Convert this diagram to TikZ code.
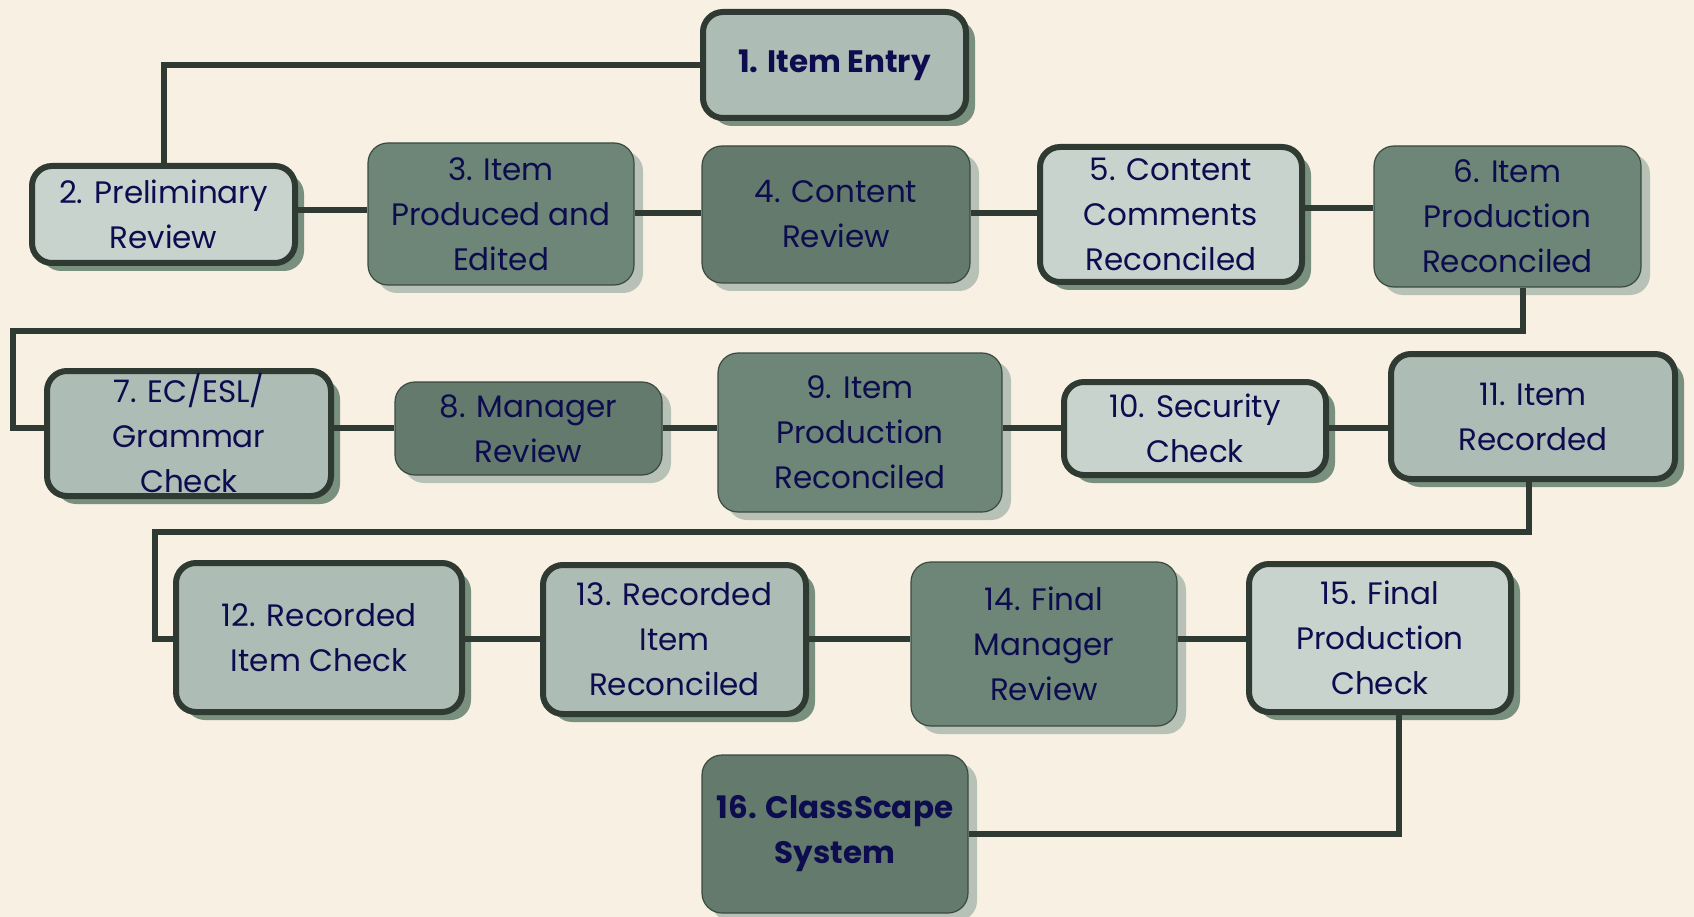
\documentclass[tikz,border=0pt]{standalone}
\usepackage{fontspec}
\setmainfont{Poppins}
\usetikzlibrary{shadows}
\definecolor{bg}{HTML}{F8F0E3}
\definecolor{edge}{HTML}{2F3A33}
\definecolor{thinedge}{HTML}{3A4A40}
\definecolor{txt}{HTML}{0C0C4E}
\definecolor{flight}{HTML}{C8D3CD}
\definecolor{flmid}{HTML}{ADBCB4}
\definecolor{fmed}{HTML}{6D8677}
\definecolor{fdark}{HTML}{637A6C}
\definecolor{shA}{HTML}{79907F}
\definecolor{shB}{HTML}{B7C1B6}
\begin{document}
\begin{tikzpicture}[x=1pt,y=-1pt,
  box/.style={rounded corners=20pt, align=center, inner sep=0pt, text=txt,
    font=\fontsize{31}{45}\selectfont},
  thickbox/.style={box, draw=edge, line width=6pt,
    drop shadow={shadow xshift=9pt, shadow yshift=-8pt, fill=shA, opacity=1}},
  thinbox/.style={box, draw=thinedge, line width=1.2pt,
    drop shadow={shadow xshift=9pt, shadow yshift=-8pt, fill=shB, opacity=1}},
  sz/.style 2 args={minimum width=#1pt, minimum height=#2pt},
  boldtxt/.style={font=\fontsize{31}{45}\selectfont\bfseries},
  link/.style={draw=edge, line width=6pt}]
\fill[bg] (0,0) rectangle (1694,917);
\useasboundingbox (0,0) rectangle (1694,917);

\node[thickbox, fill=flmid, sz={263}{106}, boldtxt] (n1) at (834.5,65) {1. Item Entry};
\node[thickbox, fill=flight, sz={263}{97}] (n2) at (163.5,214.5) {2. Preliminary\\Review};
\node[thinbox, fill=fmed, sz={266}{142}] (n3) at (501,214) {3. Item\\Produced and\\Edited};
\node[thinbox, fill=fdark, sz={268}{137}] (n4) at (836,214.5) {4. Content\\Review};
\node[thickbox, fill=flight, sz={262}{135}] (n5) at (1171,214.5) {5. Content\\Comments\\Reconciled};
\node[thinbox, fill=fmed, sz={267}{141}] (n6) at (1507.5,216.5) {6. Item\\Production\\Reconciled};

\node[thickbox, fill=flmid, sz={284}{125}] (n7) at (189,433.5) {7. EC/ESL/\\Grammar\\Check};
\node[thinbox, fill=fdark, sz={267}{93}] (n8) at (528.5,428.5) {8. Manager\\Review};
\node[thinbox, fill=fmed, sz={284}{159}] (n9) at (860,432.5) {9. Item\\Production\\Reconciled};
\node[thickbox, fill=flight, sz={262}{93}] (n10) at (1195,428.5) {10. Security\\Check};
\node[thickbox, fill=flmid, sz={284}{125}] (n11) at (1533,416.5) {11. Item\\Recorded};

\node[thickbox, fill=flmid, sz={286}{149}] (n12) at (319,637.5) {12. Recorded\\Item Check};
\node[thickbox, fill=flmid, sz={263}{149}] (n13) at (674.5,639.5) {13. Recorded\\Item\\Reconciled};
\node[thinbox, fill=fmed, sz={266}{164}] (n14) at (1044,644) {14. Final\\Manager\\Review};
\node[thickbox, fill=flight, sz={262}{148}] (n15) at (1380,638) {15. Final\\Production\\Check};
\node[thinbox, fill=fdark, sz={266}{158}, boldtxt] (n16) at (835,834) {16. ClassScape\\System};

\coordinate (k1) at (13,331);
\coordinate (k2) at (154.5,531.5);

\draw[link] (n1.west) -| (n2.north);
\draw[link] (n2.east |- 0,210) -- (n3.west |- 0,210);
\draw[link] (n3.east |- 0,213) -- (n4.west |- 0,213);
\draw[link] (n4.east |- 0,213) -- (n5.west |- 0,213);
\draw[link] (n5.east |- 0,208.5) -- (n6.west |- 0,208.5);
\draw[link] ([xshift=15.5pt]n6.south) |- (k1) |- (n7.west |- 0,428);
\draw[link] (n7.east |- 0,428) -- (n8.west |- 0,428);
\draw[link] (n8.east |- 0,428) -- (n9.west |- 0,428);
\draw[link] (n9.east |- 0,428) -- (n10.west |- 0,428);
\draw[link] (n10.east |- 0,428) -- (n11.west |- 0,428);
\draw[link] ([xshift=-4pt]n11.south) |- (k2) |- (n12.west |- 0,639);
\draw[link] (n12.east |- 0,639) -- (n13.west |- 0,639);
\draw[link] (n13.east |- 0,639) -- (n14.west |- 0,639);
\draw[link] (n14.east |- 0,638.5) -- (n15.west |- 0,638.5);
\draw[link] ([xshift=19pt]n15.south) |- (n16.east);
\end{tikzpicture}
\end{document}
